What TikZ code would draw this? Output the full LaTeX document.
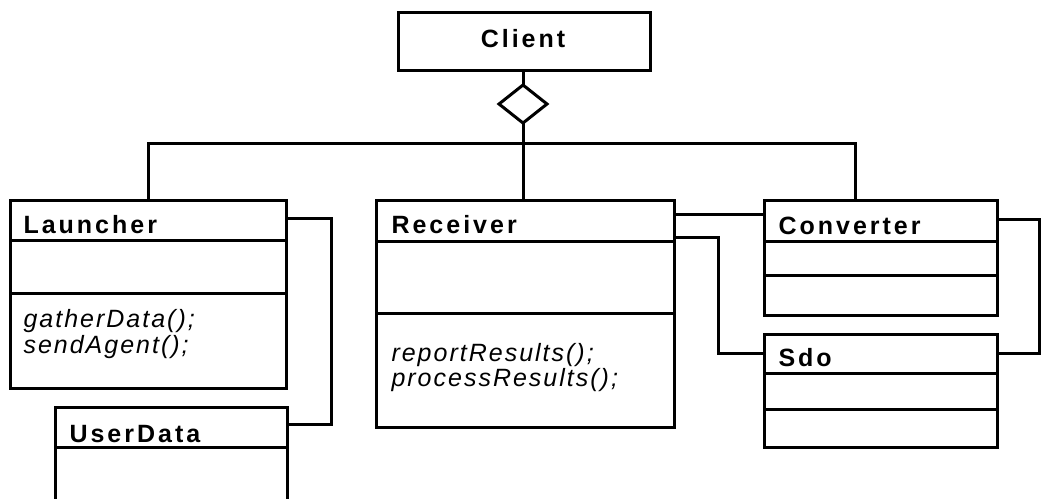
\documentclass[tikz,border=0pt]{standalone}
\usepackage{fontspec}
\setmainfont{Liberation Sans}
\newfontfamily\ttlfont[LetterSpace=12]{Liberation Sans}
\newfontfamily\mthfont[LetterSpace=8]{Liberation Sans}
\usetikzlibrary{shapes.geometric}
\begin{document}
\begin{tikzpicture}[x=1pt,y=-1pt,
  line width=3pt,
  comp/.style={draw, inner sep=0pt, outer sep=0pt, anchor=north west, fill=white},
  ttl/.style={anchor=base west, inner sep=0pt, font=\ttlfont\bfseries\fontsize{25}{25}\selectfont},
  mth/.style={anchor=base west, inner sep=0pt, align=left, font=\mthfont\itshape\fontsize{25}{25}\selectfont},
  agg/.style={draw, diamond, inner sep=0pt, outer sep=0pt, minimum width=48pt, minimum height=38pt, fill=white}]
\useasboundingbox (0,0) rectangle (1041,498);
\clip (0,0) rectangle (1041,498);
% Client
\node[comp, minimum width=252pt, minimum height=58pt] (Cl) at (398,12) {};
\node[ttl, anchor=base] (Clt) at (523,47) {Client};
\node[agg] (D) at (523,104) {};
\coordinate (j) at (523,143);
% Launcher
\node[comp, minimum width=276pt, minimum height=40pt] (Lt) at (10,200) {};
\node[comp, minimum width=276pt, minimum height=53pt] (La) at (10,240) {};
\node[comp, minimum width=276pt, minimum height=95pt] (Lm) at (10,293) {};
\node[ttl] (Ltx) at (22,233) {Launcher};
\node[mth] (Lm1) at (22,327) {gatherData();};
\node[mth] (Lm2) at (22,353) {sendAgent();};
% UserData
\node[comp, minimum width=232pt, minimum height=40pt] (Ut) at (55,407) {};
\node[comp, minimum width=232pt, minimum height=70pt] (Ua) at (55,447) {};
\node[ttl] (Utx) at (68,442) {UserData};
% Receiver
\node[comp, minimum width=298pt, minimum height=41pt] (Rt) at (376,200) {};
\node[comp, minimum width=298pt, minimum height=72pt] (Ra) at (376,241) {};
\node[comp, minimum width=298pt, minimum height=114pt] (Rm) at (376,313) {};
\node[ttl] (Rtx) at (390,233) {Receiver};
\node[mth] (Rm1) at (390,361) {reportResults();};
\node[mth] (Rm2) at (390,386) {processResults();};
% Converter
\node[comp, minimum width=233pt, minimum height=41pt] (Ct) at (764,200) {};
\node[comp, minimum width=233pt, minimum height=34pt] (Ca) at (764,241) {};
\node[comp, minimum width=233pt, minimum height=40pt] (Cm) at (764,275) {};
\node[ttl] (Ctx) at (777,234) {Converter};
% Sdo
\node[comp, minimum width=233pt, minimum height=39pt] (St) at (764,334) {};
\node[comp, minimum width=233pt, minimum height=36pt] (Sa) at (764,373) {};
\node[comp, minimum width=233pt, minimum height=38pt] (Sm) at (764,409) {};
\node[ttl] (Stx) at (777,366) {Sdo};
% connectors
\draw (D.north) -- (D.north |- Cl.south);
\draw (D.south) -- (j);
\draw (Lt.north) |- (j) -| ([xshift=-25pt]Ct.north);
\draw (j) -- (j |- Rt.north);
\draw ([yshift=-18pt]Lt.north east) -- ++(45pt,0) |- ([yshift=-17pt]Ut.north east);
\draw ([yshift=-14pt]Rt.north east) -- ([yshift=-14pt]Ct.north west);
\draw ([yshift=-37pt]Rt.north east) -- ++(44pt,0) |- ([yshift=-19pt]St.north west);
\draw ([yshift=-19pt]Ct.north east) -- ++(42pt,0) |- ([yshift=-19pt]St.north east);
\end{tikzpicture}
\end{document}
